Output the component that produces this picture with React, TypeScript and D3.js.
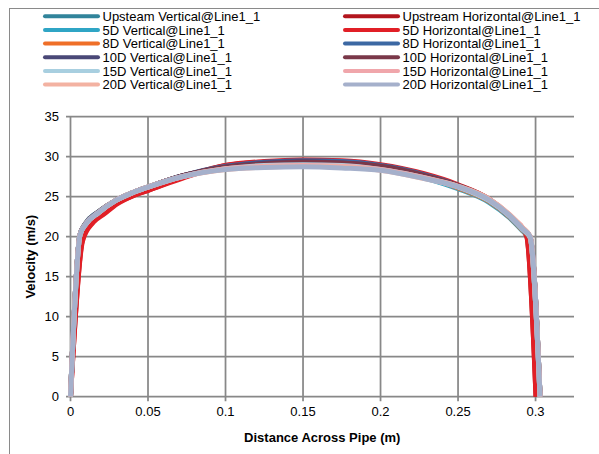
import React from "react";
import * as d3 from "d3";

// Distances across pipe (m)
const distanceA = [0, 0.0061, 0.01, 0.018, 0.029, 0.04, 0.05, 0.072, 0.1, 0.125, 0.15, 0.175, 0.2, 0.2275, 0.25, 0.27, 0.283, 0.2917, 0.2965, 0.3029];
const distanceB = [0, 0.0078, 0.0147, 0.022, 0.03, 0.04, 0.05, 0.072, 0.1, 0.125, 0.15, 0.175, 0.2, 0.2275, 0.25, 0.27, 0.283, 0.2942, 0.3003];

// Velocities (m/s)
const upstreamVertical = [0, 20.2, 21.7, 23.1, 24.5, 25.5, 26.2, 27.6, 28.6, 29.1, 29.3, 29.1, 28.6, 27.5, 26.1, 24.4, 22.5, 20.8, 19.8, 0];
const upstreamHorizontal = [0, 19.7, 21.9, 23.0, 24.2, 25.1, 25.8, 27.4, 28.9, 29.3, 29.5, 29.4, 28.9, 27.8, 26.4, 24.6, 22.5, 20.1, 0];
const v5DVertical = [0, 20.2, 21.7, 23.1, 24.4, 25.4, 26.1, 27.5, 28.6, 29.1, 29.3, 29.1, 28.6, 27.4, 26.0, 24.3, 22.4, 20.7, 19.7, 0];
const v5DHorizontal = [0, 19.5, 21.8, 22.9, 24.1, 25.1, 25.8, 27.3, 28.9, 29.4, 29.6, 29.5, 29.0, 27.9, 26.5, 24.7, 22.6, 20.2, 0];
const v8DVertical = [0, 20.2, 21.7, 23.1, 24.5, 25.5, 26.2, 27.6, 28.7, 29.2, 29.4, 29.2, 28.7, 27.5, 26.1, 24.4, 22.5, 20.8, 19.8, 0];
const v8DHorizontal = [0, 20.2, 21.7, 23.1, 24.5, 25.5, 26.2, 27.6, 28.8, 29.3, 29.5, 29.4, 28.9, 27.8, 26.4, 24.6, 22.6, 20.9, 19.9, 0];
const v10DVertical = [0, 20.2, 21.6, 23.0, 24.5, 25.5, 26.2, 27.6, 28.7, 29.2, 29.4, 29.2, 28.7, 27.6, 26.2, 24.5, 22.6, 20.9, 19.9, 0];
const v10DHorizontal = [0, 20.2, 21.6, 23.0, 24.5, 25.5, 26.2, 27.6, 28.7, 29.1, 29.3, 29.2, 28.8, 27.7, 26.4, 24.7, 22.7, 21.0, 20.0, 0];
const v15DVertical = [0, 20.2, 21.6, 23.0, 24.5, 25.5, 26.2, 27.5, 28.5, 28.9, 29.0, 28.9, 28.4, 27.4, 26.2, 24.5, 22.6, 20.9, 19.9, 0];
const v15DHorizontal = [0, 20.2, 21.6, 23.0, 24.5, 25.5, 26.2, 27.5, 28.5, 28.8, 28.9, 28.8, 28.4, 27.4, 26.3, 24.7, 22.8, 21.1, 20.0, 0];
const v20DVertical = [0, 20.2, 21.6, 23.0, 24.5, 25.5, 26.2, 27.5, 28.4, 28.7, 28.8, 28.7, 28.3, 27.3, 26.3, 24.7, 22.8, 21.1, 20.0, 0];
const v20DHorizontal = [0, 20.2, 21.6, 23.0, 24.5, 25.5, 26.2, 27.5, 28.4, 28.65, 28.75, 28.6, 28.3, 27.3, 26.25, 24.6, 22.7, 21.0, 20.0, 0];

const seriesNames = [
  "Upsteam Vertical@Line1_1", "Upstream Horizontal@Line1_1",
  "5D Vertical@Line1_1", "5D Horizontal@Line1_1",
  "8D Vertical@Line1_1", "8D Horizontal@Line1_1",
  "10D Vertical@Line1_1", "10D Horizontal@Line1_1",
  "15D Vertical@Line1_1", "15D Horizontal@Line1_1",
  "20D Vertical@Line1_1", "20D Horizontal@Line1_1",
];
const seriesColors = [
  "#31849b", "#b3151d",
  "#2fa5c5", "#e11f26",
  "#ef6f28", "#3c68a3",
  "#4a4877", "#7a3849",
  "#a8cfe0", "#f0a6ab",
  "#f3b2a2", "#a5b0cb",
];
const seriesValues = [
  upstreamVertical, upstreamHorizontal,
  v5DVertical, v5DHorizontal,
  v8DVertical, v8DHorizontal,
  v10DVertical, v10DHorizontal,
  v15DVertical, v15DHorizontal,
  v20DVertical, v20DHorizontal,
];
const seriesDistances = [
  distanceA, distanceB,
  distanceA, distanceB,
  distanceA, distanceA,
  distanceA, distanceA,
  distanceA, distanceA,
  distanceA, distanceA,
];

const xTicks = [0, 0.05, 0.1, 0.15, 0.2, 0.25, 0.3];
const xTickLabels = ["0", "0.05", "0.1", "0.15", "0.2", "0.25", "0.3"];
const yTicks = [0, 5, 10, 15, 20, 25, 30, 35];

export default function App() {
  const W = 599, H = 454;
  const left = 70.5, right = 574, top = 116.7, bottom = 396.7;
  const x = d3.scaleLinear().domain([0, 0.3248]).range([left, right]);
  const y = d3.scaleLinear().domain([0, 35]).range([bottom, top]);
  const font = "'Liberation Sans', Arial, sans-serif";
  const gridColor = "#888888";

  const line = (xs: number[], vs: number[]) =>
    d3.line<number>()
      .x((_, i) => x(xs[i]))
      .y((v) => y(v))
      .curve(d3.curveMonotoneX)(vs) || "";

  const legendRowY = (r: number) => 16.3 + r * 13.65;

  return (
    <div style={{ position: "fixed", left: 0, top: 0 }}>
      <svg width={W} height={H} style={{ display: "block", background: "#fff" }}>
        <rect x={0} y={0} width={W} height={H} fill="#fff" />
        {/* chart border (cropped at right/bottom) */}
        <rect x={9.5} y={8.5} width={W + 10} height={H + 10} fill="none" stroke="#8a8a8a" strokeWidth={1} />

        {/* gridlines */}
        {yTicks.map((t) => (
          <line key={"gy" + t} x1={left - 4.5} x2={right} y1={y(t)} y2={y(t)} stroke={gridColor} strokeWidth={1.75} />
        ))}
        {xTicks.map((t) => (
          <line key={"gx" + t} x1={x(t)} x2={x(t)} y1={top} y2={bottom + 4.5} stroke={gridColor} strokeWidth={1.75} />
        ))}

        {/* y tick labels */}
        {yTicks.map((t) => (
          <text key={"ly" + t} x={59} y={y(t)} dy="0.35em" textAnchor="end" fontFamily={font} fontSize={13} fill="#000">
            {t}
          </text>
        ))}
        {/* x tick labels */}
        {xTicks.map((t, i) => (
          <text key={"lx" + t} x={x(t)} y={416} textAnchor="middle" fontFamily={font} fontSize={13} fill="#000">
            {xTickLabels[i]}
          </text>
        ))}

        {/* axis titles */}
        <text x={(left + right) / 2} y={442} textAnchor="middle" fontFamily={font} fontSize={13} fontWeight="bold" fill="#000">
          Distance Across Pipe (m)
        </text>
        <text
          transform={`translate(34.5, ${(top + bottom) / 2}) rotate(-90)`}
          textAnchor="middle"
          fontFamily={font}
          fontSize={13}
          fontWeight="bold"
          fill="#000"
        >
          Velocity (m/s)
        </text>

        {/* series */}
        {seriesValues.map((vs, i) => (
          <path
            key={"s" + i}
            d={line(seriesDistances[i], vs)}
            fill="none"
            stroke={seriesColors[i]}
            strokeWidth={5}
            strokeLinejoin="round"
          />
        ))}

        {/* legend */}
        {seriesNames.map((name, i) => {
          const col = i % 2;
          const row = Math.floor(i / 2);
          const ly = legendRowY(row);
          const lx = col === 0 ? 45 : 345;
          return (
            <g key={"lg" + i}>
              <line x1={lx} x2={lx + 53} y1={ly} y2={ly} stroke={seriesColors[i]} strokeWidth={4} strokeLinecap="round" />
              <text x={lx + 57.5} y={ly} dy="0.36em" fontFamily={font} fontSize={13} fill="#000">
                {name}
              </text>
            </g>
          );
        })}
      </svg>
    </div>
  );
}
